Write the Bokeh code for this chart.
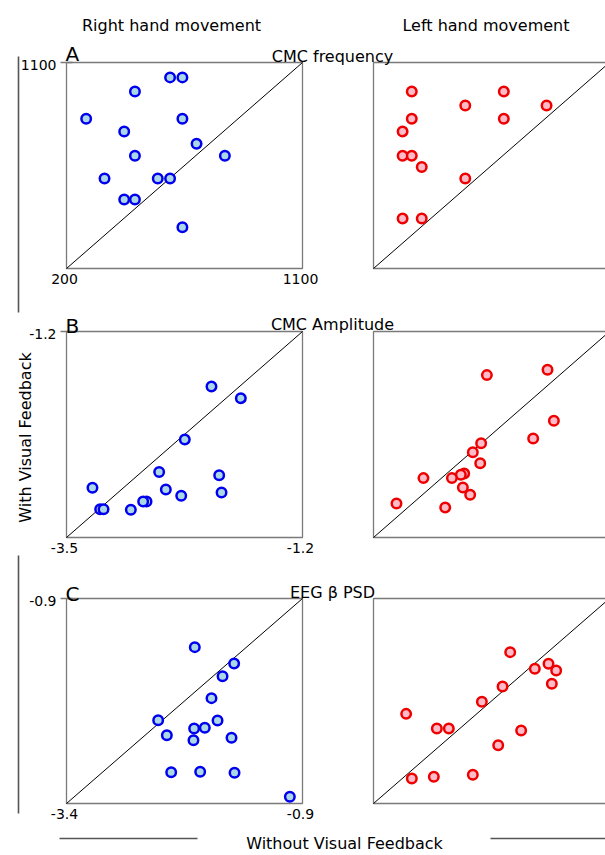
from bokeh.plotting import figure
from bokeh.models import Range1d
from bokeh.core.properties import value
from bokeh.embed import file_html
from bokeh.resources import INLINE

# ---------------- data ----------------
col_titles = ["Right hand movement", "Left hand movement"]
row_titles = ["CMC frequency", "CMC Amplitude", "EEG β PSD"]
row_letters = ["A", "B", "C"]
y_title = "With Visual Feedback"
x_title = "Without Visual Feedback"

lim_A = [200, 1100]
lim_B = [-3.5, -1.2]
lim_C = [-3.4, -0.9]

# Row A: CMC frequency
right_A_without = [595, 642, 461, 275, 642, 420, 696, 461, 804, 345, 548, 595, 420, 461, 642]
right_A_with = [1035, 1035, 973, 854, 854, 799, 745, 693, 693, 593, 593, 593, 501, 501, 380]
left_A_without = [346, 697, 550, 860, 346, 697, 311, 311, 346, 384, 550, 311, 384]
left_A_with = [973, 973, 912, 912, 854, 854, 799, 693, 693, 643, 593, 418, 418]

# Row B: CMC amplitude
right_B_without = [-2.087, -1.801, -2.347, -2.597, -2.012, -3.247, -2.532, -1.989, -2.382,
                   -2.720, -2.753, -3.172, -3.139, -2.873]
right_B_with = [-1.814, -1.944, -2.406, -2.770, -2.804, -2.945, -2.964, -2.998, -3.035,
                -3.098, -3.098, -3.184, -3.184, -3.191]
left_B_without = [-2.395, -1.804, -1.742, -1.944, -2.451, -2.532, -2.460, -3.013, -2.616,
                  -2.649, -2.736, -2.629, -2.558, -3.276, -2.801]
left_B_with = [-1.687, -1.628, -2.197, -2.395, -2.447, -2.547, -2.670, -2.837, -2.785,
               -2.800, -2.837, -2.942, -3.024, -3.120, -3.165]

# Row C: EEG beta PSD
right_C_without = [-2.041, -1.624, -1.747, -1.864, -2.429, -1.800, -2.048, -1.935, -2.337,
                   -1.652, -2.055, -2.291, -1.984, -1.620, -1.034]
right_C_with = [-1.493, -1.693, -1.847, -2.115, -2.384, -2.388, -2.485, -2.477, -2.567,
                -2.599, -2.628, -3.018, -3.014, -3.026, -3.319]
left_C_without = [-1.952, -1.546, -1.465, -1.691, -1.511, -2.033, -2.252, -3.054, -2.729,
                  -2.602, -1.836, -2.079, -2.348, -2.761, -2.994]
left_C_with = [-1.554, -1.697, -1.778, -1.758, -1.941, -1.973, -2.160, -2.307, -2.485,
               -2.485, -2.510, -2.689, -3.050, -3.075, -3.095]

# ---------------- layout / style ----------------
W, H = 605, 855
PAGE = 0
FONT = value("DejaVu Sans")
FRAME = "#7a7a7a"
DECOR = "#555555"
STYLE = {
    "L": dict(line_color="#0000ee", fill_color="#acd8e6"),
    "R": dict(line_color="#ee0000", fill_color="#ffbcc8"),
}
COL_PX = {"L": (66, 302), "R": (373, 609)}
ROW_PX = {"A": (62, 268), "B": (331, 537), "C": (598, 803)}
LETTER_Y = {"A": 53, "B": 325, "C": 593}
TITLE_Y = {"A": 56, "B": 324, "C": 592}


def x_range_for(lim, px):
    k = (lim[1] - lim[0]) / (px[1] - px[0])
    start = lim[0] - (px[0] - PAGE) * k
    return Range1d(start=start, end=start + W * k)


def y_range_for(lim, px):
    top, bottom = px
    k = (lim[1] - lim[0]) / (bottom - top)
    start = lim[0] - ((PAGE + H) - bottom) * k
    return Range1d(start=start, end=start + H * k)


def cx(x):
    return x - PAGE


def cy(y):
    return PAGE + H - y


p = figure(width=W, height=H, x_range=Range1d(0, W), y_range=Range1d(0, H),
           x_axis_type=None, y_axis_type=None, toolbar_location=None,
           output_backend="svg", min_border=0, title=None,
           outline_line_color=None, background_fill_color="white",
           border_fill_color="white")


def label(x, y, s, size, align="left", baseline="alphabetic", angle=0.0):
    p.text(x=[cx(x)], y=[cy(y)], text=[s], text_font=FONT,
           text_font_size=f"{size}px", text_align=align,
           text_baseline=baseline, angle=angle, text_color="black")


rows = [
    ("A", lim_A, (right_A_without, right_A_with), (left_A_without, left_A_with)),
    ("B", lim_B, (right_B_without, right_B_with), (left_B_without, left_B_with)),
    ("C", lim_C, (right_C_without, right_C_with), (left_C_without, left_C_with)),
]

xr, yr = {}, {}
for key, lim, _, _ in rows:
    yr[key] = y_range_for(lim, ROW_PX[key])
    for c in ("L", "R"):
        xr[c + key] = x_range_for(lim, COL_PX[c])
p.extra_x_ranges = xr
p.extra_y_ranges = yr

for i, (key, lim, right_data, left_data) in enumerate(rows):
    for c, (xs, ys) in (("L", right_data), ("R", left_data)):
        names = dict(x_range_name=c + key, y_range_name=key)
        p.quad(left=[lim[0]], right=[lim[1]], bottom=[lim[0]], top=[lim[1]],
               fill_color=None, line_color=FRAME, line_width=1.3, **names)
        p.line(x=lim, y=lim, line_color="black", line_width=1, **names)
        p.scatter(x=xs, y=ys, marker="circle", size=9.5, line_width=2.5,
                  **STYLE[c], **names)
        if c == "L":
            # tick at the top-left corner and tick labels
            p.scatter(x=[lim[0]], y=[lim[1]], marker="dash", size=12,
                      line_color=FRAME, line_width=1.3, **names)
            p.text(x=[lim[0]], y=[lim[1]], text=[f"{lim[1]:g}"], x_offset=-10,
                   y_offset=2, text_align="right", text_baseline="middle",
                   text_font=FONT, text_font_size="14px", text_color="black", **names)
            p.text(x=lim, y=[lim[0], lim[0]], text=[f"{v:g}" for v in lim],
                   x_offset=-2, y_offset=5, text_align="center", text_baseline="top",
                   text_font=FONT, text_font_size="14px", text_color="black", **names)
    label(65, LETTER_Y[key], row_letters[i], 20)
    label(332, TITLE_Y[key], row_titles[i], 16, align="center")

# column headers
label(171, 25, col_titles[0], 16, align="center")
label(485.5, 25, col_titles[1], 16, align="center")

# y axis title with bracket line
label(25, 437, y_title, 16, align="center", angle=1.5707963)
p.segment(x0=[cx(18), cx(18)], y0=[cy(56), cy(555)], x1=[cx(18), cx(18)],
          y1=[cy(312), cy(813)], line_color=DECOR, line_width=1.6)

# x axis title with bracket lines
label(344, 843, x_title, 16, align="center")
p.segment(x0=[cx(59), cx(490)], y0=[cy(838), cy(838)], x1=[cx(197), cx(605)],
          y1=[cy(838), cy(838)], line_color=DECOR, line_width=1.6)

open("out.html", "w").write(file_html(p, INLINE))
